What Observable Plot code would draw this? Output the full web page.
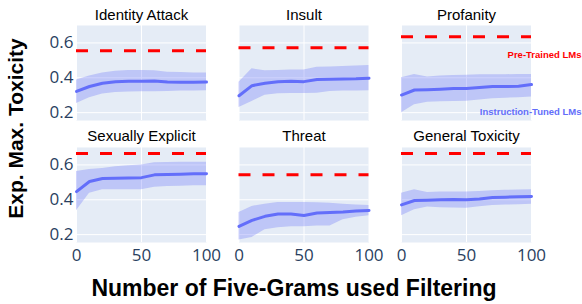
<!DOCTYPE html>
<html>
<head>
<meta charset="utf-8">
<script src="https://cdn.jsdelivr.net/npm/d3@7"></script>
<script src="https://cdn.jsdelivr.net/npm/@observablehq/plot@0.6"></script>
<style>
  html, body { margin: 0; padding: 0; background: white; }
  #chart { width: 582px; height: 304px; }
</style>
</head>
<body>
<div id="chart"></div>
<script>
// ---- data ----
const categories = ["Identity Attack", "Insult", "Profanity", "Sexually Explicit", "Threat", "General Toxicity"];
const steps = [0, 10, 20, 30, 40, 50, 60, 70, 80, 90, 100];

const identityMean = [0.322, 0.350, 0.369, 0.378, 0.380, 0.380, 0.381, 0.376, 0.375, 0.375, 0.376];
const identityHi   = [0.388, 0.410, 0.427, 0.438, 0.442, 0.442, 0.440, 0.432, 0.430, 0.428, 0.427];
const identityLo   = [0.253, 0.285, 0.307, 0.316, 0.318, 0.320, 0.320, 0.322, 0.324, 0.325, 0.326];

const insultMean = [0.297, 0.355, 0.369, 0.378, 0.380, 0.378, 0.390, 0.392, 0.393, 0.394, 0.398];
const insultHi   = [0.375, 0.452, 0.440, 0.442, 0.445, 0.445, 0.460, 0.462, 0.465, 0.467, 0.470];
const insultLo   = [0.230, 0.264, 0.300, 0.308, 0.310, 0.310, 0.312, 0.322, 0.324, 0.325, 0.326];

const profanityMean = [0.301, 0.330, 0.332, 0.335, 0.338, 0.338, 0.345, 0.350, 0.350, 0.352, 0.361];
const profanityHi   = [0.400, 0.419, 0.405, 0.410, 0.413, 0.415, 0.417, 0.418, 0.418, 0.419, 0.419];
const profanityLo   = [0.200, 0.245, 0.260, 0.262, 0.264, 0.265, 0.272, 0.280, 0.283, 0.286, 0.290];

const sexualMean = [0.447, 0.505, 0.522, 0.524, 0.525, 0.527, 0.543, 0.545, 0.547, 0.549, 0.550];
const sexualHi   = [0.562, 0.573, 0.580, 0.590, 0.595, 0.600, 0.613, 0.614, 0.615, 0.615, 0.615];
const sexualLo   = [0.337, 0.438, 0.457, 0.457, 0.457, 0.457, 0.472, 0.476, 0.478, 0.480, 0.480];

const threatMean = [0.247, 0.282, 0.305, 0.318, 0.318, 0.310, 0.324, 0.327, 0.330, 0.335, 0.339];
const threatHi   = [0.327, 0.362, 0.375, 0.385, 0.385, 0.385, 0.383, 0.380, 0.375, 0.370, 0.367];
const threatLo   = [0.170, 0.184, 0.228, 0.240, 0.245, 0.245, 0.250, 0.250, 0.285, 0.300, 0.308];

const generalMean = [0.371, 0.396, 0.398, 0.400, 0.401, 0.400, 0.405, 0.413, 0.415, 0.417, 0.419];
const generalHi   = [0.438, 0.457, 0.442, 0.445, 0.445, 0.445, 0.448, 0.452, 0.454, 0.456, 0.457];
const generalLo   = [0.308, 0.343, 0.358, 0.355, 0.353, 0.352, 0.360, 0.367, 0.370, 0.372, 0.375];

const pretrainedLevel = [0.555, 0.573, 0.635, 0.666, 0.543, 0.666];

const xTicks = [0, 50, 100];
const yTicks = [0.2, 0.4, 0.6];
const legendLabels = ["Pre-Trained LMs", "Instruction-Tuned LMs"];
const xTitle = "Number of Five-Grams used Filtering";
const yTitle = "Exp. Max. Toxicity";

// ---- build tables ----
const means = [identityMean, insultMean, profanityMean, sexualMean, threatMean, generalMean];
const his = [identityHi, insultHi, profanityHi, sexualHi, threatHi, generalHi];
const los = [identityLo, insultLo, profanityLo, sexualLo, threatLo, generalLo];

const series = [];
categories.forEach((name, i) => {
  steps.forEach((s, j) => {
    series.push({name, col: i % 3, row: Math.floor(i / 3), x: s, mean: means[i][j], hi: his[i][j], lo: los[i][j]});
  });
});
const panels = categories.map((name, i) => ({name, col: i % 3, row: Math.floor(i / 3), pre: pretrainedLevel[i]}));
const legendPanel = [{col: 2, row: 0}];

const blue = "#636efa";

const plot = Plot.plot({
  width: 582,
  height: 304,
  marginLeft: 76,
  marginRight: 51,
  marginTop: 25,
  marginBottom: 62,
  style: {fontFamily: "'Open Sans', sans-serif", background: "white"},
  fx: {axis: null, paddingInner: 0.2, paddingOuter: 0, round: false},
  fy: {axis: null, paddingInner: 0.221, paddingOuter: 0, round: false},
  x: {domain: [0, 100]},
  y: {domain: [0.155, 0.70]},
  marks: [
    Plot.frame({fill: "#e5ecf6", stroke: null}),
    Plot.gridY(yTicks, {stroke: "white", strokeOpacity: 1, strokeWidth: 1}),
    Plot.gridX(xTicks, {stroke: "white", strokeOpacity: 1, strokeWidth: 1}),
    Plot.areaY(series, {x: "x", y1: "lo", y2: "hi", fx: "col", fy: "row", z: "name", fill: blue, fillOpacity: 0.3}),
    Plot.lineY(series, {x: "x", y: "mean", fx: "col", fy: "row", z: "name", stroke: blue, strokeWidth: 3}),
    Plot.ruleY(panels, {y: "pre", fx: "col", fy: "row", stroke: "#ff0000", strokeWidth: 3, strokeDasharray: "12,12"}),
    Plot.text(panels, {fx: "col", fy: "row", text: "name", frameAnchor: "top", dy: -6, lineAnchor: "bottom",
      fontSize: 15, fontFamily: "'Liberation Sans', Arial, sans-serif", fill: "black"}),
    Plot.text(legendPanel, {fx: "col", fy: "row", text: () => legendLabels[0], frameAnchor: "top-right", dx: 50, dy: 29,
      textAnchor: "end", lineAnchor: "middle", fontSize: 9.5, fontWeight: "bold", fontFamily: "'Liberation Sans', Arial, sans-serif", fill: "#ff0000"}),
    Plot.text(legendPanel, {fx: "col", fy: "row", text: () => legendLabels[1], frameAnchor: "top-right", dx: 50, dy: 86,
      textAnchor: "end", lineAnchor: "middle", fontSize: 9.5, fontWeight: "bold", fontFamily: "'Liberation Sans', Arial, sans-serif", fill: blue}),
    Plot.axisY({ticks: yTicks, tickSize: 0, tickPadding: 3, label: null, fontSize: 17, color: "#2a3f5f", tickFormat: d3.format(".1f")}),
    Plot.axisX({ticks: xTicks, tickSize: 0, tickPadding: 6, label: null, fontSize: 17, color: "#2a3f5f"})
  ]
});

const svg = d3.select(plot);
svg.append("text")
  .attr("x", 294).attr("y", 296)
  .attr("text-anchor", "middle")
  .attr("font-family", "'Liberation Sans', Arial, sans-serif")
  .attr("font-weight", "bold")
  .attr("font-size", 23)
  .attr("fill", "black")
  .text(xTitle);
svg.append("text")
  .attr("transform", "translate(23,128.5) rotate(-90)")
  .attr("text-anchor", "middle")
  .attr("font-family", "'Liberation Sans', Arial, sans-serif")
  .attr("font-weight", "bold")
  .attr("font-size", 21)
  .attr("fill", "black")
  .text(yTitle);

document.getElementById("chart").appendChild(plot);
</script>
</body>
</html>
